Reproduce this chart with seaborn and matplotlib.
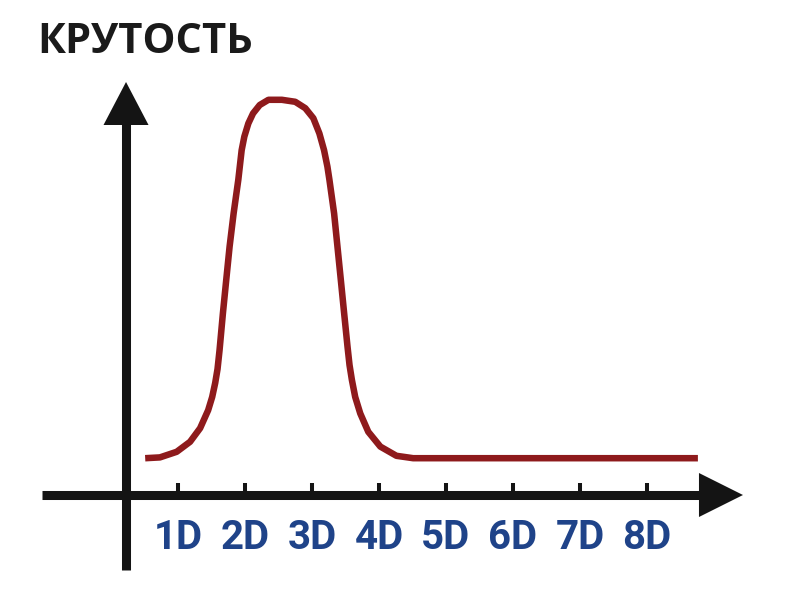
import matplotlib
matplotlib.use("Agg")
import matplotlib.pyplot as plt
from matplotlib.patches import Polygon
import seaborn as sns

# ---- data ----
title = "КРУТОСТЬ"
tick_positions = [1, 2, 3, 4, 5, 6, 7, 8]
tick_labels = ["1D", "2D", "3D", "4D", "5D", "6D", "7D", "8D"]
x_vals = [0.51, 0.73, 0.98, 1.18, 1.33, 1.45, 1.51, 1.555, 1.59, 1.62, 1.67, 1.72,
          1.77, 1.83, 1.90, 1.95, 1.99, 2.05, 2.12, 2.22, 2.35, 2.55, 2.75, 2.90,
          3.02, 3.11, 3.18, 3.23, 3.26, 3.33, 3.38, 3.43, 3.48, 3.53, 3.56, 3.595,
          3.645, 3.72, 3.84, 4.02, 4.26, 4.51, 4.76, 8.76]
y_vals = [0.92, 0.94, 1.08, 1.33, 1.67, 2.12, 2.45, 2.80, 3.15, 3.62, 4.54, 5.38,
          6.21, 7.04, 7.88, 8.62, 8.96, 9.29, 9.54, 9.75, 9.88, 9.88, 9.83, 9.67,
          9.42, 9.04, 8.62, 8.21, 7.88, 7.04, 6.21, 5.38, 4.54, 3.71, 3.25, 2.88,
          2.45, 2.04, 1.58, 1.21, 0.98, 0.92, 0.92, 0.92]

sns.set_theme(style="white")
plt.rcParams["font.family"] = ["Roboto", "DejaVu Sans"]

curve_color = "#8e1a1c"
axis_color = "#141414"
label_color = "#1f4389"

fig = plt.figure(figsize=(8, 6), dpi=100)
ax = fig.add_axes([0, 0, 1, 1])
ax.set_xlim(-1.657, 10.284)
ax.set_ylim(-2.625, 12.375)

sns.lineplot(x=x_vals, y=y_vals, ax=ax, color=curve_color, linewidth=4.7,
             sort=False, estimator=None)
for l in ax.lines:
    l.set_solid_joinstyle("round")
    l.set_solid_capstyle("butt")

# axes with arrows
for s in ["top", "right"]:
    ax.spines[s].set_visible(False)
ax.spines["bottom"].set_position(("data", 0))
ax.spines["bottom"].set_bounds(-1.03, 8.80)
ax.spines["left"].set_position(("data", 0.224))
ax.spines["left"].set_bounds(-1.875, 9.30)
for s in ["bottom", "left"]:
    ax.spines[s].set_linewidth(6.5)
    ax.spines[s].set_color(axis_color)
    ax.spines[s].set_capstyle("butt")

ax.add_patch(Polygon([[8.776, 0.55], [9.433, 0.0], [8.776, -0.55]],
                     closed=True, color=axis_color, lw=0, zorder=3))
ax.add_patch(Polygon([[0.224 - 0.336, 9.25], [0.224, 10.325], [0.224 + 0.336, 9.25]],
                     closed=True, color=axis_color, lw=0, zorder=3))

ax.set_xticks(tick_positions)
ax.set_xticklabels(tick_labels)
ax.set_yticks([])
ax.tick_params(axis="x", direction="in", length=8.5, width=2.9, color=axis_color,
               pad=17, labelsize=29, labelcolor=label_color, bottom=True)
for t in ax.get_xticklabels():
    t.set_fontweight("bold")
ax.set_xlabel("")
ax.set_ylabel("")

fig.text(37 / 800, 1 - 22 / 600, title, ha="left", va="top", fontsize=30,
         fontweight="bold", color="#1a1a1a", family=["Open Sans", "DejaVu Sans"])

fig.savefig("out.png", dpi=100)
